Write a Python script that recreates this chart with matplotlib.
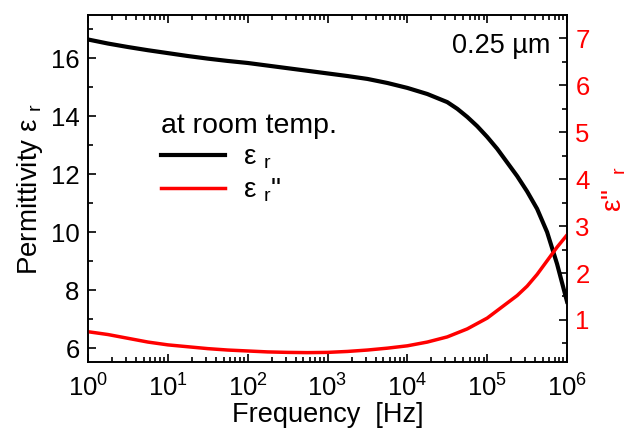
"""Permittivity and loss versus frequency for the 0.25 um film."""

import matplotlib

matplotlib.use("Agg")
import matplotlib.pyplot as plt
import numpy as np
from matplotlib.ticker import FixedLocator, LogLocator, MultipleLocator, NullFormatter

plt.rcParams["font.family"] = ["Liberation Sans", "DejaVu Sans"]
plt.rcParams["mathtext.fontset"] = "custom"
plt.rcParams["mathtext.rm"] = "Liberation Sans"
plt.rcParams["mathtext.it"] = "Liberation Sans"

# log10 of frequency [Hz] and real permittivity
log_freq_real = [0.0, 0.25, 0.5, 0.75, 1.0, 1.25, 1.5, 1.75, 2.0, 2.25, 2.5, 2.75,
                 3.0, 3.25, 3.5, 3.75, 4.0, 4.25, 4.5, 4.625, 4.75, 4.875, 5.0,
                 5.125, 5.25, 5.375, 5.5, 5.625, 5.75, 5.875, 6.0]
eps_real = [16.64, 16.50, 16.38, 16.27, 16.17, 16.07, 15.98, 15.90, 15.83, 15.74,
            15.65, 15.56, 15.47, 15.38, 15.28, 15.14, 14.97, 14.76, 14.48, 14.25,
            13.97, 13.65, 13.28, 12.87, 12.40, 11.93, 11.40, 10.80, 10.00, 8.90, 7.60]

# log10 of frequency [Hz] and dielectric loss
log_freq_loss = [0.0, 0.125, 0.25, 0.375, 0.5, 0.75, 1.0, 1.25, 1.5, 1.75, 2.0, 2.25,
                 2.5, 2.75, 3.0, 3.25, 3.5, 3.75, 4.0, 4.25, 4.5, 4.75, 5.0, 5.125,
                 5.25, 5.375, 5.5, 5.625, 5.75, 5.875, 6.0]
eps_loss = [0.75, 0.72, 0.69, 0.65, 0.61, 0.53, 0.47, 0.43, 0.39, 0.36, 0.34, 0.32,
            0.31, 0.305, 0.31, 0.33, 0.36, 0.40, 0.45, 0.53, 0.64, 0.81, 1.04, 1.20,
            1.36, 1.52, 1.72, 1.97, 2.26, 2.55, 2.81]

x_ticks = [1e0, 1e1, 1e2, 1e3, 1e4, 1e5, 1e6]
left_ticks = [6, 8, 10, 12, 14, 16]
right_ticks = [1, 2, 3, 4, 5, 6, 7]

fig = plt.figure(figsize=(6.35, 4.32), dpi=100)
ax = fig.add_axes([0.1386, 0.162, 0.7544, 0.803])
ax2 = ax.twinx()

(line_real,) = ax.plot(10 ** np.asarray(log_freq_real), eps_real, color="black", lw=3.0,
                       label="ε $_{\\rm r}$")
(line_loss,) = ax2.plot(10 ** np.asarray(log_freq_loss), eps_loss, color="#ff0000", lw=2.5,
                        label="ε $_{\\rm r}$\"")

ax.set_xscale("log")
ax.set_xlim(1, 1e6)
ax.set_ylim(5.52, 17.48)
ax2.set_ylim(0.105, 7.49)

ax.xaxis.set_major_locator(FixedLocator(x_ticks))
ax.xaxis.set_minor_locator(LogLocator(base=10, subs=np.arange(2, 10), numticks=20))
ax.xaxis.set_minor_formatter(NullFormatter())
ax.yaxis.set_major_locator(FixedLocator(left_ticks))
ax.yaxis.set_minor_locator(MultipleLocator(1))
ax2.yaxis.set_major_locator(FixedLocator(right_ticks))
ax2.yaxis.set_minor_locator(MultipleLocator(0.5))

ax.tick_params(which="both", direction="in", top=True, right=False, width=1.2,
               labelsize=18.5, pad=6)
ax.tick_params(which="major", length=6)
ax.tick_params(which="minor", length=3.5)
ax.tick_params(axis="x", pad=9)
ax2.tick_params(which="both", direction="in", width=1.2, labelsize=18.5,
                labelcolor="#ff0000", pad=6)
ax2.tick_params(which="major", length=6)
ax2.tick_params(which="minor", length=3.5)

for spine in list(ax.spines.values()) + list(ax2.spines.values()):
    spine.set_linewidth(1.2)

ax.set_xlabel("Frequency  [Hz]", fontsize=19.5, labelpad=0)
ax.set_ylabel("Permittivity ε $_{\\rm r}$", fontsize=20, labelpad=4)
ax2.set_ylabel("ε\"  $_{\\rm r}$", fontsize=20, color="#ff0000", labelpad=8)

ax.text(0.965, 0.91, "0.25 µm", transform=ax.transAxes, fontsize=19.5,
        ha="right", va="center")

leg = ax.legend(handles=[line_real, line_loss], title="at room temp.", loc="upper left",
                bbox_to_anchor=(0.1, 0.79), frameon=False, fontsize=20,
                title_fontsize=20.5, handlelength=2.3, handletextpad=0.65,
                labelspacing=0.2)
leg._legend_box.align = "left"

fig.savefig("out.png", dpi=100)
